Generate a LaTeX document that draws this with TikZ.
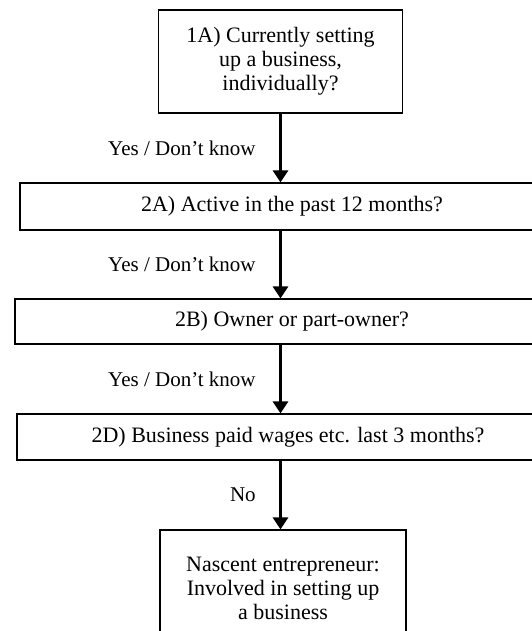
\documentclass[tikz,border=0pt]{standalone}
\usepackage{fontspec}
\setmainfont{Liberation Serif}
\usetikzlibrary{arrows.meta}
\begin{document}
\begin{tikzpicture}[x=1pt,y=-1pt,
    box/.style={draw, line width=1.2pt, inner sep=0pt, align=center, font=\fontsize{22}{24}\selectfont},
    flow/.style={line width=3pt, -{Triangle[width=15pt,length=12pt]}},
    lbl/.style={font=\fontsize{21}{24}\selectfont, left=20pt}]

    \useasboundingbox (0,0) rectangle (532,631);
    \clip (0,0) rectangle (532,631);

    \node[box, minimum width=244pt, minimum height=103pt] (q1A) at (280.5,61.5) {1A) Currently setting\\ up a business,\\ individually?};
    \node[box, minimum width=544pt, minimum height=47pt] (q2A) at (292,206.5) {2A) Active in the past 12 months?};
    \node[box, minimum width=554pt, minimum height=45pt] (q2B) at (292,321.5) {2B) Owner or part-owner?};
    \node[box, minimum width=542pt, minimum height=46pt] (q2D) at (288,437) {2D) Business paid wages etc. last 3 months?};
    \node[box, minimum width=246pt, minimum height=116pt] (nascent) at (283,588) {Nascent entrepreneur:\\ Involved in setting up\\ a business};

    \draw[flow] (q1A.south) -- node[lbl] {Yes / Don’t know} (q1A.south |- q2A.north);
    \draw[flow] (q1A.south |- q2A.south) -- node[lbl] {Yes / Don’t know} (q1A.south |- q2B.north);
    \draw[flow] (q1A.south |- q2B.south) -- node[lbl] {Yes / Don’t know} (q1A.south |- q2D.north);
    \draw[flow] (q1A.south |- q2D.south) -- node[lbl] {No} (q1A.south |- nascent.north);

\end{tikzpicture}
\end{document}
